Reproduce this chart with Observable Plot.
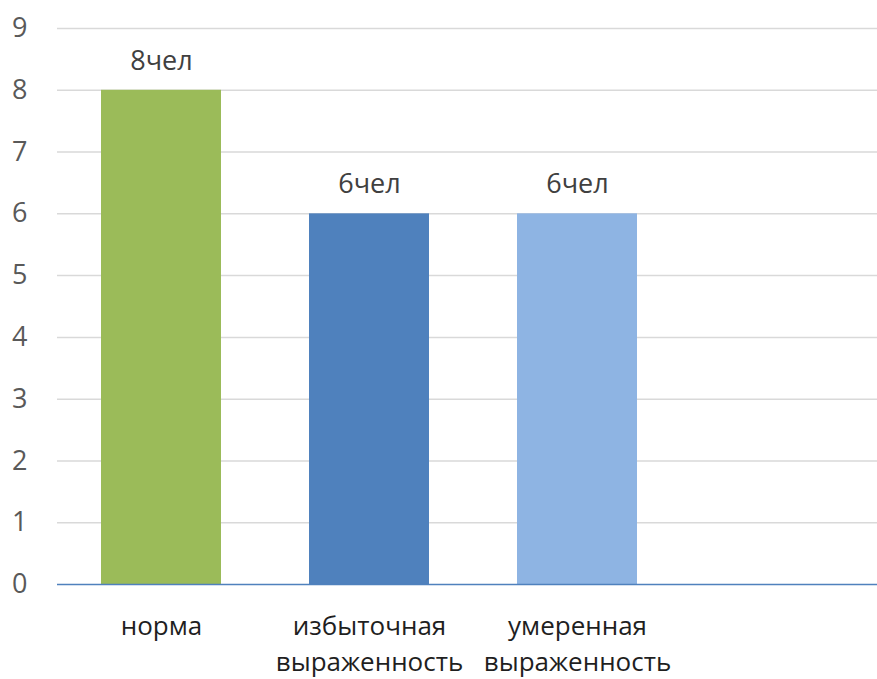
<!DOCTYPE html>
<html>
<head>
<meta charset="utf-8">
<script src="https://cdn.jsdelivr.net/npm/d3@7"></script>
<script src="https://cdn.jsdelivr.net/npm/@observablehq/plot@0.6"></script>
<style>
  html, body { margin: 0; padding: 0; background: #fff; overflow: hidden; }
  #chart { width: 877px; height: 679px; overflow: hidden; }
  #chart svg { overflow: hidden; }
</style>
</head>
<body>
<div id="chart"></div>
<script>
// Categories (the fourth slot is empty), counts and their labels
const categories = ["норма", "избыточная\nвыраженность", "умеренная\nвыраженность", ""];
const counts = [8, 6, 6, null];
const valueLabels = ["8чел", "6чел", "6чел", ""];
const barColors = ["#9BBB59", "#4F81BD", "#8EB4E3", "#ffffff"];
const yTicks = [0, 1, 2, 3, 4, 5, 6, 7, 8, 9];

const rows = categories
  .map((c, i) => ({category: c, count: counts[i], label: valueLabels[i], color: barColors[i]}))
  .filter(d => d.count != null);

const font = "Open Sans, Noto Sans, sans-serif";

const chart = Plot.plot({
  width: 877,
  height: 679,
  marginLeft: 57,
  marginRight: -12,
  marginTop: 28,
  marginBottom: 95,
  style: {fontFamily: font, background: "#fff"},
  x: {domain: categories, paddingInner: 0.423, paddingOuter: 0.21, label: null},
  y: {domain: [0, 9], ticks: yTicks, label: null},
  marks: [
    Plot.gridY(yTicks.filter(t => t > 0), {stroke: "#d9d9d9", strokeOpacity: 1, strokeWidth: 1.5}),
    Plot.barY(rows, {x: "category", y: "count", fill: "color"}),
    Plot.ruleY([0], {stroke: "#4f81bd", strokeWidth: 1.5}),
    Plot.text(rows, {
      x: "category", y: "count", text: "label",
      lineAnchor: "middle", dy: -29,
      fontSize: 27, fill: "#404040"
    }),
    Plot.axisY(yTicks, {
      tickSize: 0, tickPadding: 30, fontSize: 27, fill: "#595959",
      textAnchor: "end", tickFormat: d3.format("d")
    }),
    Plot.axisX({
      tickSize: 0, tickPadding: 26, fontSize: 26, fill: "#1f1f1f", lineHeight: 1.35
    })
  ]
});

document.getElementById("chart").append(chart);
</script>
</body>
</html>
